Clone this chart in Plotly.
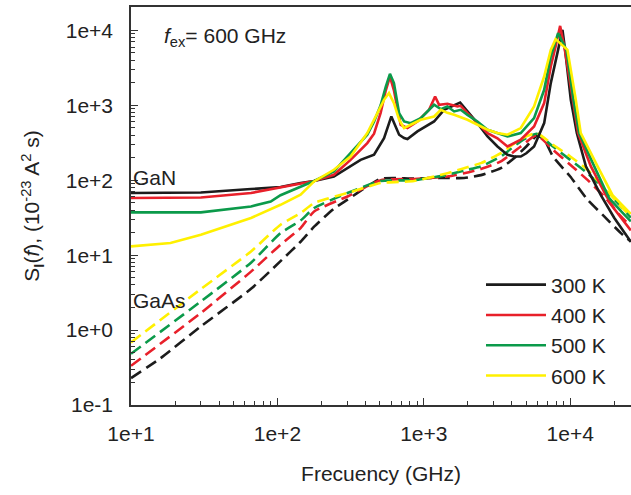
import plotly.graph_objects as go

# ---------------- data ----------------
# GaN (solid lines) -- frequency in GHz, spectral density in 1e-23 A^2 s
gan_300_f = [10, 30, 66, 105, 144, 178, 243, 316, 370, 457, 535, 600, 643, 678, 733, 773, 904, 1175, 1374, 1611,
             1770, 1986, 2323, 2723, 3184, 3724, 4130, 4592, 5012, 5662, 6637, 7362, 7943, 8851, 9226, 10090, 11090,
             12790, 16180, 19950, 25940]
gan_300_s = [67.5, 68.7, 76.2, 81.1, 91.6, 97.7, 112, 153, 187, 219, 365, 710, 521, 405, 365, 354, 448, 608, 871, 1016,
             1089, 828, 578, 384, 282, 219, 207, 207, 229, 282, 578, 1977, 4046, 10160, 5495, 1183, 426,
             153, 63.1, 31.6, 15.1]

gan_400_f = [10, 30, 66, 105, 144, 178, 243, 316, 411, 457, 507, 550, 587, 625, 643, 695, 773, 904, 1086, 1194,
             1271, 1449, 1698, 1786, 1986, 2323, 2723, 3184, 3724, 4592, 5662, 6637, 7362, 7943, 8531, 9183, 10380,
             11320, 13840, 17500, 19950, 25940]
gan_400_s = [57.8, 58.9, 67.5, 79.4, 89.1, 97.7, 118, 187, 313, 417, 794, 1585, 2421, 1585, 1183, 550, 497, 608, 871, 1312,
             1016, 1047, 964, 984, 787, 578, 426, 363, 282, 347, 521, 1069, 3296, 6095, 11480, 5495, 1183,
             426, 153, 63.1, 41.7, 21.4]

gan_500_f = [10, 30, 66, 90, 105, 144, 178, 243, 316, 411, 457, 507, 550, 587, 625, 678, 733, 813, 953, 1175,
             1306, 1449, 1611, 1786, 1986, 2323, 2723, 3184, 3724, 4592, 5662, 6637, 7362, 8260, 9419, 10520, 11510,
             14590, 18450, 22390, 25940]
gan_500_s = [37.2, 37.2, 44.7, 52.0, 63.1, 82.6, 97.7, 131, 230, 405, 603, 1000, 1778, 2630, 1977, 787, 608, 578, 675, 1016,
             889, 964, 828, 871, 746, 608, 472, 426, 384, 426, 675, 1611, 4477, 9183, 5495, 1183, 426,
             153, 57.5, 38.0, 28.2]

gan_600_f = [10, 18.6, 30, 48, 66, 105, 144, 178, 243, 316, 411, 482, 535, 578, 625, 678, 733, 813, 953, 1175,
             1306, 1449, 1611, 1986, 2323, 2723, 3184, 3724, 4592, 5662, 6637, 7362, 7943, 9572, 10910, 11800,
             15380, 19450, 25940]
gan_600_s = [13.1, 14.5, 18.7, 25.5, 31.3, 47.0, 64.0, 96.4, 138, 207, 426, 787, 1183, 1455, 1069, 641, 497, 550, 641, 710,
             871, 794, 746, 641, 550, 472, 426, 405, 497, 964, 2421, 5495, 7638, 5495, 1183, 426,
             153, 63.1, 35.5]

# GaAs (dashed lines)
gaas_300_f = [10, 15.8, 30, 66, 105, 144, 178, 243, 301, 398, 507, 631, 857, 1122, 1449, 1884, 2455, 3357, 4169, 5012,
              5888, 6607, 7621, 10000, 13120, 17060, 22180, 25940]
gaas_300_s = [0.229, 0.417, 1.12, 3.55, 8.32, 15.1, 24.0, 41.7, 55.0, 79.4, 105, 107, 105, 107, 107, 107, 117, 145, 200, 282,
              389, 355, 207, 112, 55.0, 32.9, 19.7, 15.2]

gaas_f = [10, 30, 66, 105, 144, 178, 301, 507, 857, 1449, 1884, 2455, 3357, 4592, 5888, 7621, 10000, 13120, 17060,
          22180, 25940]
gaas_400_s = [0.334, 1.69, 6.03, 13.8, 23.0, 38.3, 60.7, 100, 104, 112, 124, 141, 178, 282, 398, 255, 161, 101, 60.7,
              32.9, 24.2]
gaas_500_s = [0.483, 2.41, 7.94, 19.7, 29.0, 42.5, 67.5, 97.7, 100, 118, 135, 153, 207, 331, 417, 282, 187, 124, 75.9,
              44.7, 31.6]
gaas_600_s = [0.684, 3.53, 11.2, 25.5, 36.5, 49.5, 67.5, 91.6, 97.7, 124, 145, 169, 230, 355, 426, 297, 207, 138, 79.4,
              44.7, 32.9]

temps = ["300 K", "400 K", "500 K", "600 K"]
colors = ["#1c1c1c", "#e8202a", "#0b9a4a", "#fff000"]

x_ticks = [10, 100, 1000, 10000]
x_ticktext = ["1e+1", "1e+2", "1e+3", "1e+4"]
y_ticks = [0.1, 1, 10, 100, 1000, 10000]
y_ticktext = ["1e-1", "1e+0", "1e+1", "1e+2", "1e+3", "1e+4"]

# ---------------- figure ----------------
FONT = "Liberation Sans, Arial, sans-serif"
TXT = "#222222"

gan = [(gan_300_f, gan_300_s), (gan_400_f, gan_400_s), (gan_500_f, gan_500_s), (gan_600_f, gan_600_s)]
gaas = [(gaas_300_f, gaas_300_s), (gaas_f, gaas_400_s), (gaas_f, gaas_500_s), (gaas_f, gaas_600_s)]

fig = go.Figure()
for i in range(4):
    f, s = gaas[i]
    fig.add_trace(go.Scatter(x=f, y=s, mode="lines", showlegend=False,
                             line=dict(color=colors[i], width=2.6, dash="12px,6px", shape="spline", smoothing=0.5),
                             hoverinfo="skip"))
for i in range(4):
    f, s = gan[i]
    fig.add_trace(go.Scatter(x=f, y=s, mode="lines", name=temps[i], legendgroup=temps[i],
                             line=dict(color=colors[i], width=2.6)))

minor_vals = [d * 10 ** e for e in range(-1, 5) for d in range(2, 10)]

fig.update_layout(
    width=631, height=495,
    margin=dict(l=130.5, r=0, t=7.3, b=90),
    paper_bgcolor="white", plot_bgcolor="white",
    font=dict(family=FONT, size=21, color=TXT),
    showlegend=True,
    legend=dict(x=0.70, y=0.353, xanchor="left", yanchor="top", bgcolor="rgba(0,0,0,0)",
                font=dict(size=21, color=TXT), tracegroupgap=0, itemwidth=60),
    annotations=[
        dict(text="<i>f</i><sub>ex</sub>= 600 GHz", xref="paper", yref="paper", x=0.062, y=0.925,
             xanchor="left", yanchor="middle", showarrow=False, font=dict(size=21, color=TXT)),
        dict(text="GaN", xref="paper", yref="paper", x=0.0, y=0.572,
             xanchor="left", yanchor="middle", showarrow=False, font=dict(size=21, color=TXT)),
        dict(text="GaAs", xref="paper", yref="paper", x=0.0, y=0.262,
             xanchor="left", yanchor="middle", showarrow=False, font=dict(size=21, color=TXT)),
    ],
)

fig.update_xaxes(
    type="log", range=[1, 4.415],
    tickmode="array", tickvals=x_ticks, ticktext=x_ticktext,
    ticks="inside", ticklen=7, tickwidth=1.2, tickcolor="#333",
    minor=dict(tickmode="array", tickvals=minor_vals, ticks="inside", ticklen=4, tickcolor="#333", showgrid=False),
    showgrid=False, zeroline=False,
    showline=True, linecolor="#333", linewidth=1.5, mirror=True,
    ticklabelstandoff=9,
    title=dict(text="Frecuency (GHz)", font=dict(size=21, color=TXT), standoff=22),
)
fig.update_yaxes(
    type="log", range=[-1, 4.312],
    tickmode="array", tickvals=y_ticks, ticktext=y_ticktext,
    ticks="inside", ticklen=7, tickwidth=1.2, tickcolor="#333",
    minor=dict(tickmode="array", tickvals=minor_vals, ticks="inside", ticklen=4, tickcolor="#333", showgrid=False),
    showgrid=False, zeroline=False,
    showline=True, linecolor="#333", linewidth=1.5, mirror=False,
    ticklabelstandoff=12,
    title=dict(text="S<sub><b>I</b></sub>(<i>f</i>), (10<sup>-23</sup> A<sup>2</sup> s)",
               font=dict(size=21, color=TXT), standoff=20),
)

fig.write_html("out.html")
